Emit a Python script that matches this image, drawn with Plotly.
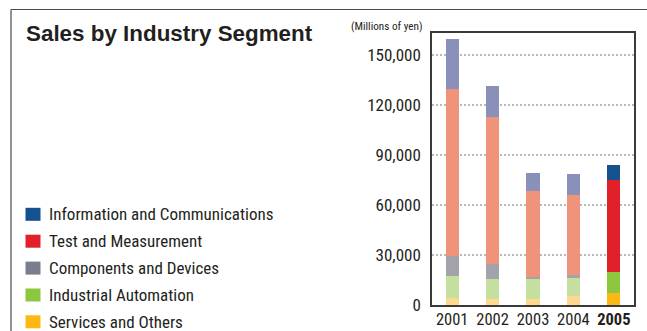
import plotly.graph_objects as go

# Fiscal years and segment sales (millions of yen), stacked bottom to top
years = ["2001", "2002", "2003", "2004", "2005"]
year_labels = ["2001", "2002", "2003", "2004", "<b>2005</b>"]

services_others = [4400, 3600, 3600, 5400, 7200]
industrial_automation = [13000, 12000, 12000, 11400, 12700]
components_devices = [12100, 9300, 1400, 1200, 0]
test_measurement = [100400, 88200, 51600, 48200, 55300]
info_communications = [30100, 18600, 10800, 12600, 9000]

y_ticks = [0, 30000, 60000, 90000, 120000, 150000]
y_tick_labels = ["0", "30,000", "60,000", "90,000", "120,000", "150,000"]

segments = [
    ("Services and Others", services_others, "#FDB813", "#FED88F"),
    ("Industrial Automation", industrial_automation, "#8DC63F", "#C5E09E"),
    ("Components and Devices", components_devices, "#7A7E8C", "#A3A3AB"),
    ("Test and Measurement", test_measurement, "#E2202A", "#EF947A"),
    ("Information and Communications", info_communications, "#15508F", "#8991BB"),
]

# Canvas and plot-area geometry (pixels)
W, H = 647, 331
L, R, T, B = 432, 634, 33, 305

def px(x):
    return (x - L) / (R - L)

def py(y):
    return (B - y) / (B - T)

SANS = "Liberation Sans, Arial, sans-serif"
NARROW = "Roboto Condensed, Liberation Sans, sans-serif"
TEXT = "#231f20"

fig = go.Figure()
for name, values, strong, faded in segments:
    # earlier years drawn in a lighter tint, latest year in full colour
    colors = [faded] * (len(years) - 1) + [strong]
    fig.add_trace(go.Bar(
        x=years, y=values, name=name,
        marker=dict(color=colors, line=dict(width=0)),
        width=0.33, showlegend=False, hoverinfo="x+y+name",
    ))

shapes = [
    # outer frame: top rule and left rule
    dict(type="line", xref="paper", yref="paper", x0=px(11), x1=px(W + 5),
         y0=py(9.5), y1=py(9.5), line=dict(color="#4a4a4a", width=1.2)),
    dict(type="line", xref="paper", yref="paper", x0=px(11), x1=px(11),
         y0=py(9.5), y1=py(H + 5), line=dict(color="#4a4a4a", width=1.2)),
]
annotations = [
    dict(text="<b>Sales by Industry Segment</b>", xref="paper", yref="paper",
         x=px(24), y=py(33), xanchor="left", yanchor="middle", showarrow=False,
         font=dict(family=SANS, size=22.4, color=TEXT)),
    dict(text="(Millions of yen)", xref="paper", yref="paper",
         x=px(424), y=py(26), xanchor="right", yanchor="middle", showarrow=False,
         font=dict(family=NARROW, size=11.2, color=TEXT)),
]

# legend rows, top to bottom
row_y = [214.3, 241.2, 268.1, 295.0, 321.8]
for (name, values, strong, faded), cy in zip(reversed(segments), row_y):
    shapes.append(dict(type="rect", xref="paper", yref="paper",
                       x0=px(25.5), x1=px(40.5), y0=py(cy - 6.5), y1=py(cy + 6.5),
                       fillcolor=strong, line=dict(width=0)))
    annotations.append(dict(text=name, xref="paper", yref="paper",
                            x=px(46.5), y=py(cy), xanchor="left", yanchor="middle",
                            showarrow=False,
                            font=dict(family=NARROW, size=17, color=TEXT)))

fig.update_layout(
    width=W, height=H,
    margin=dict(l=L, r=W - R, t=T, b=H - B, pad=0),
    paper_bgcolor="white", plot_bgcolor="white",
    barmode="stack", bargap=0,
    shapes=shapes, annotations=annotations,
    font=dict(family=NARROW, size=17, color=TEXT),
    xaxis=dict(
        type="category", range=[-0.5, 4.5], automargin=False,
        tickmode="array", tickvals=years, ticktext=year_labels, tickangle=0,
        showline=True, mirror=True, linecolor="#3a3a3a", linewidth=1.5,
        showgrid=False, ticks="", ticklabelstandoff=-2,
        tickfont=dict(family=NARROW, size=16.5, color=TEXT),
        fixedrange=True,
    ),
    yaxis=dict(
        range=[0, 163500], automargin=False,
        tickmode="array", tickvals=y_ticks, ticktext=y_tick_labels,
        showline=True, mirror=True, linecolor="#3a3a3a", linewidth=1.5,
        showgrid=True, gridcolor="#b8b8b8", gridwidth=1.5, griddash="2px,2px",
        zeroline=False, ticks="", ticklabelstandoff=6,
        tickfont=dict(family=NARROW, size=17, color=TEXT),
        fixedrange=True,
    ),
)

fig.write_html("out.html")
